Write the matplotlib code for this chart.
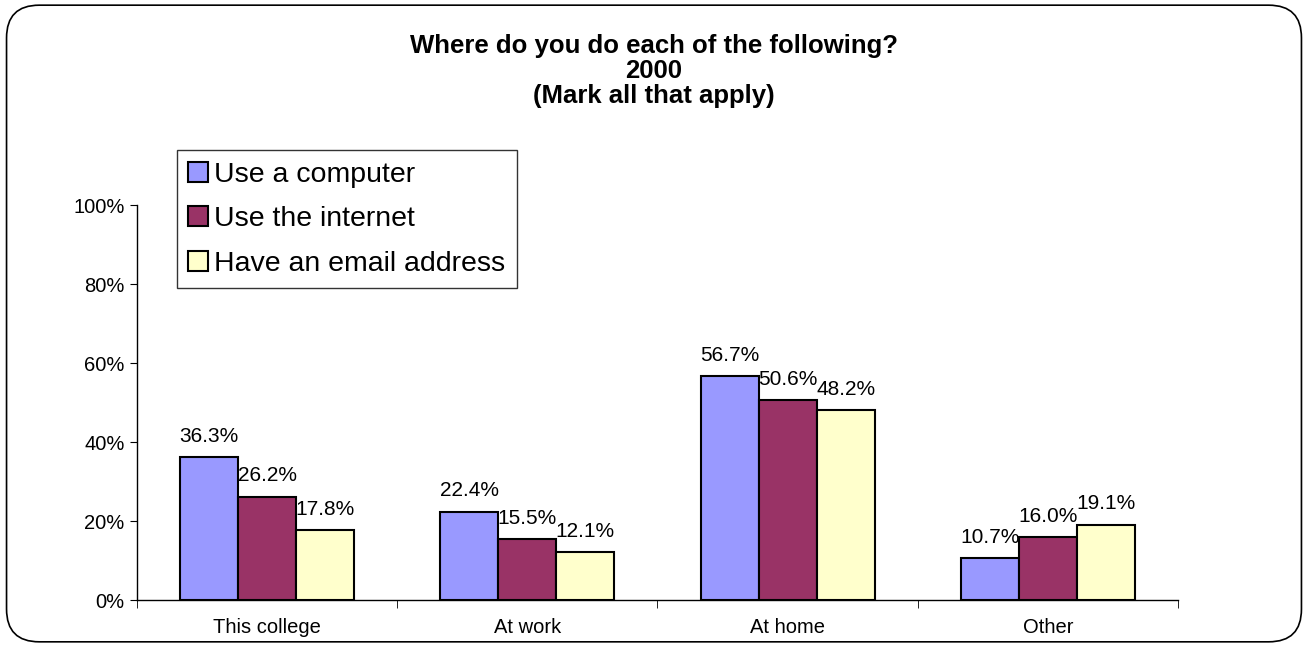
import numpy as np
import matplotlib
matplotlib.use("Agg")
import matplotlib.pyplot as plt
from matplotlib.patches import FancyBboxPatch

plt.rcParams['font.family'] = ['Liberation Sans', 'DejaVu Sans']

# data
categories = ["This college", "At work", "At home", "Other"]
series = ["Use a computer", "Use the internet", "Have an email address"]
computer = [36.3, 22.4, 56.7, 10.7]
internet = [26.2, 15.5, 50.6, 16.0]
email = [17.8, 12.1, 48.2, 19.1]
colors = ["#9999FF", "#993366", "#FFFFCC"]

fig = plt.figure(figsize=(13.08, 6.47), dpi=100)

# rounded frame round the whole chart
frame = FancyBboxPatch((0.005, 0.008), 0.99, 0.984, boxstyle="round,pad=0,rounding_size=0.025",
                       transform=fig.transFigure, facecolor="none", edgecolor="black",
                       linewidth=1.2, mutation_aspect=1308/647, zorder=-1)
fig.patches.append(frame)

ax = fig.add_axes([0.1047, 0.0726, 0.7959, 0.6105])
ax.set_facecolor("none")

x = np.arange(len(categories))
w = 0.223
for i, (vals, lab) in enumerate(zip([computer, internet, email], series)):
    pos = x + (i - 1) * w
    ax.bar(pos, vals, width=w, color=colors[i], edgecolor="black", linewidth=1.5, label=lab, zorder=3)
    for xp, v in zip(pos, vals):
        ax.annotate("%.1f%%" % v, (xp, v), xytext=(0, 8), textcoords="offset points",
                    ha="center", va="bottom", fontsize=15)

ax.set_xlim(-0.5, 3.5)
ax.set_ylim(0, 100)
ax.set_yticks(range(0, 101, 20))
ax.set_yticklabels(["%d%%" % t for t in range(0, 101, 20)], fontsize=14.5)
ax.set_xticks(x)
ax.set_xticklabels(categories, fontsize=14.5)
ax.tick_params(axis="x", length=0, pad=13)
ax.set_xticks(np.arange(-0.5, 4, 1), minor=True)
ax.tick_params(axis="x", which="minor", length=6, direction="out")
ax.tick_params(axis="y", length=5, direction="out", pad=4)
for s in ["top", "right"]:
    ax.spines[s].set_visible(False)
ax.spines["left"].set_linewidth(1.0)
ax.spines["bottom"].set_linewidth(1.0)

leg = ax.legend(loc="upper left", bbox_to_anchor=(0.0385, 1.139), fontsize=20.5, frameon=True,
                fancybox=False, edgecolor="black", handlelength=0.7, handleheight=0.7,
                handletextpad=0.2, labelspacing=0.65, borderpad=0.4, borderaxespad=0)
leg.get_frame().set_linewidth(1.0)

fig.text(0.5, 0.947, "Where do you do each of the following?\n2000\n(Mark all that apply)",
         ha="center", va="top", fontsize=18.5, fontweight="bold", linespacing=1.05)

fig.savefig("out.png", dpi=100)
